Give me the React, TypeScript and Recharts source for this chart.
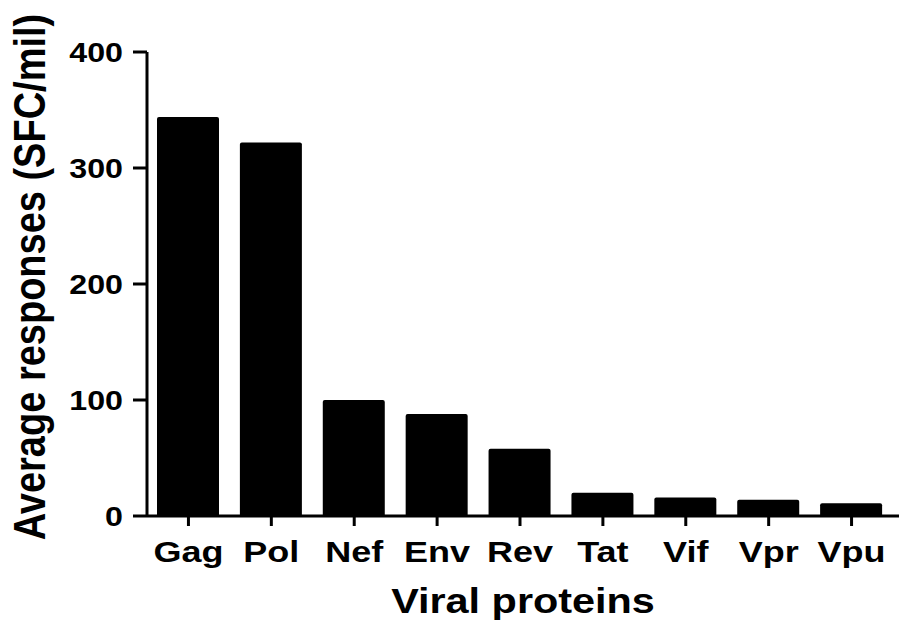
import React from "react";
import { BarChart, Bar, XAxis, YAxis, Label } from "recharts";

const proteins = ["Gag", "Pol", "Nef", "Env", "Rev", "Tat", "Vif", "Vpr", "Vpu"];
const avgResponses = [344, 322, 100, 88, 58, 20, 16, 14, 11];
const yTicks = [0, 100, 200, 300, 400];

const FONT = '"Liberation Sans", Arial, sans-serif';
// glyphs in this figure are drawn a bit wider than normal
const STRETCH = 1.15;

const chartData = proteins.map((name, i) => ({ name, value: avgResponses[i] }));

const XTick = ({ x, y, payload }: any) => (
  <text
    transform={`translate(${x},${y + 36}) scale(1.2,1)`}
    textAnchor="middle"
    fontFamily={FONT}
    fontWeight="bold"
    fontSize={30}
    fill="#000"
  >
    {payload.value}
  </text>
);

const YTick = ({ x, y, payload }: any) => (
  <text
    transform={`translate(${x},${y + 10}) scale(${STRETCH},1)`}
    textAnchor="end"
    fontFamily={FONT}
    fontWeight="bold"
    fontSize={28}
    fill="#000"
  >
    {payload.value}
  </text>
);

const YTitle = ({ viewBox }: any) => {
  const cx = viewBox.x + 45;
  const cy = viewBox.y + viewBox.height / 2 - 7;
  return (
    <text
      transform={`translate(${cx},${cy}) scale(${STRETCH},1) rotate(-90)`}
      textAnchor="middle"
      fontFamily={FONT}
      fontWeight="bold"
      fontSize={38}
      fill="#000"
    >
      Average responses (SFC/mil)
    </text>
  );
};

const XTitle = ({ viewBox }: any) => {
  const cx = viewBox.x + viewBox.width / 2;
  return (
    <text
      transform={`translate(${cx},613) scale(${STRETCH},1)`}
      textAnchor="middle"
      fontFamily={FONT}
      fontWeight="bold"
      fontSize={36}
      fill="#000"
    >
      Viral proteins
    </text>
  );
};

export default function App() {
  return (
    <div style={{ position: "absolute", left: 0, top: 0, width: 899, height: 628, background: "#fff" }}>
      <BarChart
        width={899}
        height={628}
        data={chartData}
        margin={{ top: 52, right: 0, bottom: 22, left: 0 }}
        barSize={62}
      >
        <XAxis
          dataKey="name"
          height={90}
          axisLine={{ stroke: "#000", strokeWidth: 3 }}
          tickLine={{ stroke: "#000", strokeWidth: 3 }}
          tickSize={10}
          tickMargin={0}
          padding={{ left: 0, right: 6 }}
          interval={0}
          tick={<XTick />}
        >
          <Label content={<XTitle />} />
        </XAxis>
        <YAxis
          width={147}
          domain={[0, 400]}
          ticks={yTicks}
          axisLine={{ stroke: "#000", strokeWidth: 3 }}
          tickLine={{ stroke: "#000", strokeWidth: 3 }}
          tickSize={14}
          tickMargin={10}
          tick={<YTick />}
        >
          <Label content={<YTitle />} />
        </YAxis>
        <Bar dataKey="value" fill="#000" radius={[2, 2, 0, 0]} isAnimationActive={false} />
      </BarChart>
    </div>
  );
}
